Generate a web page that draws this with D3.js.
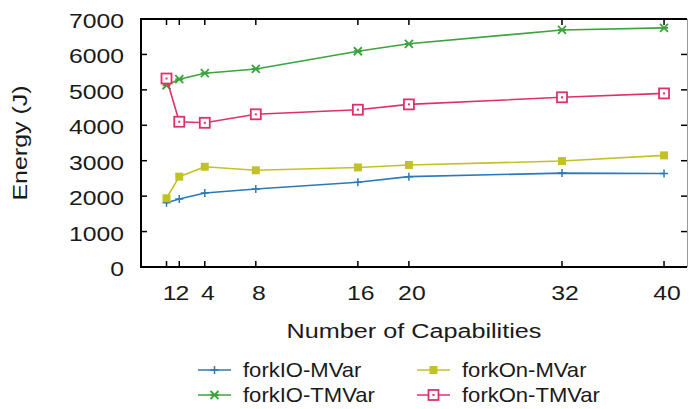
<!DOCTYPE html>
<html>
<head>
<meta charset="utf-8">
<script src="https://cdn.jsdelivr.net/npm/d3@7"></script>
<style>
  body { margin: 0; background: #fff; }
  svg { display: block; font-family: 'Liberation Sans', Arial, sans-serif; }
</style>
</head>
<body>
<script>
const capabilities = [1, 2, 4, 8, 16, 20, 32, 40]
const yTicks = [0, 1000, 2000, 3000, 4000, 5000, 6000, 7000]

const forkIOMVar = [1815, 1920, 2090, 2200, 2390, 2550, 2650, 2640]
const forkIOTMVar = [5130, 5300, 5470, 5590, 6090, 6300, 6690, 6750]
const forkOnMVar = [1940, 2550, 2830, 2730, 2810, 2880, 2990, 3150]
const forkOnTMVar = [5320, 4100, 4070, 4310, 4440, 4590, 4790, 4900]

const series = [
  { name: 'forkIO-MVar', values: forkIOMVar, color: '#2a7ab9', marker: 'plus' },
  { name: 'forkIO-TMVar', values: forkIOTMVar, color: '#3da33d', marker: 'star' },
  { name: 'forkOn-MVar', values: forkOnMVar, color: '#c2c225', marker: 'fsquare' },
  { name: 'forkOn-TMVar', values: forkOnTMVar, color: '#e0306c', marker: 'osquare' }
]

const width = 689
const height = 409
const plot = { left: 141, right: 687, top: 19, bottom: 267 }
const textColor = '#1a1a1a'

const svg = d3.select('body').append('svg')
  .attr('width', width)
  .attr('height', height)

const x = d3.scaleLinear().domain([-1, 41.8]).range([plot.left, plot.right])
const y = d3.scaleLinear().domain([0, 7000]).range([plot.bottom, plot.top])

// the original font is wider than Liberation Sans, so stretch it a bit
const label = (sel, tx, ty, stretch) => sel
  .attr('transform', `translate(${tx},${ty}) scale(${stretch},1)`)
  .attr('font-size', 21)
  .attr('fill', textColor)

// mirrored ticks, pointing inward
const ticks = svg.append('g').attr('stroke', '#000').attr('stroke-width', 1.5)
ticks.selectAll('.xb').data(capabilities).join('line')
  .attr('x1', d => x(d)).attr('x2', d => x(d))
  .attr('y1', plot.bottom).attr('y2', plot.bottom - 6)
ticks.selectAll('.xt').data(capabilities).join('line')
  .attr('x1', d => x(d)).attr('x2', d => x(d))
  .attr('y1', plot.top).attr('y2', plot.top + 6)
ticks.selectAll('.yl').data(yTicks).join('line')
  .attr('x1', plot.left).attr('x2', plot.left + 6)
  .attr('y1', d => y(d)).attr('y2', d => y(d))
ticks.selectAll('.yr').data(yTicks).join('line')
  .attr('x1', plot.right).attr('x2', plot.right - 6)
  .attr('y1', d => y(d)).attr('y2', d => y(d))

// frame
svg.append('path')
  .attr('d', `M${plot.right},${plot.top}H${plot.left}V${plot.bottom}H${plot.right}`)
  .attr('fill', 'none')
  .attr('stroke', '#000')
  .attr('stroke-width', 2)
svg.append('line')
  .attr('x1', plot.right + 0.5).attr('x2', plot.right + 0.5)
  .attr('y1', plot.top).attr('y2', plot.bottom)
  .attr('stroke', '#999')
  .attr('stroke-width', 1)

// tick labels
svg.append('g').selectAll('text').data(capabilities).join('text')
  .attr('text-anchor', 'middle')
  .call(sel => sel.each(function (d) {
    label(d3.select(this), x(d) + 3, 300, 1.18)
  }))
  .text(d => d)

svg.append('g').selectAll('text').data(yTicks).join('text')
  .attr('text-anchor', 'end')
  .call(sel => sel.each(function (d) {
    label(d3.select(this), 124, y(d) + 9, 1.18)
  }))
  .text(d => d)

svg.append('text')
  .attr('text-anchor', 'middle')
  .call(label, 27, 143, 1)
  .attr('transform', 'translate(27,143) rotate(-90) scale(1.19,1)')
  .text('Energy (J)')

svg.append('text')
  .attr('text-anchor', 'middle')
  .call(label, (plot.left + plot.right) / 2, 338, 1.2)
  .text('Number of Capabilities')

const drawMarker = (g, kind, color, px, py) => {
  if (kind === 'plus') {
    g.append('path').attr('d', `M${px - 4},${py}H${px + 4}M${px},${py - 4}V${py + 4}`)
      .attr('stroke', color).attr('stroke-width', 1.5)
  } else if (kind === 'star') {
    g.append('path').attr('d', `M${px - 4},${py - 4}L${px + 4},${py + 4}M${px - 4},${py + 4}L${px + 4},${py - 4}M${px - 4},${py}H${px + 4}`)
      .attr('stroke', color).attr('stroke-width', 1.8)
  } else if (kind === 'fsquare') {
    g.append('rect').attr('x', px - 4).attr('y', py - 4).attr('width', 8).attr('height', 8)
      .attr('fill', color)
  } else {
    g.append('rect').attr('x', px - 5).attr('y', py - 5).attr('width', 10).attr('height', 10)
      .attr('fill', '#fff').attr('stroke', color).attr('stroke-width', 1.8)
    g.append('rect').attr('x', px - 1).attr('y', py - 1).attr('width', 2).attr('height', 2)
      .attr('fill', color)
  }
}

const line = d3.line()
  .x(d => x(d[0]))
  .y(d => y(d[1]))

series.forEach(s => {
  const pts = capabilities.map((c, i) => [c, s.values[i]])
  const g = svg.append('g')
  g.append('path')
    .attr('d', line(pts))
    .attr('fill', 'none')
    .attr('stroke', s.color)
    .attr('stroke-width', 1.6)
  pts.forEach(p => drawMarker(g, s.marker, s.color, x(p[0]), y(p[1])))
})

// legend, two columns
const legendCols = [198, 417]
const legendRows = [370, 395]
series.forEach((s, i) => {
  const lx = legendCols[i < 2 ? 0 : 1]
  const ly = legendRows[i % 2]
  const g = svg.append('g')
  g.append('line')
    .attr('x1', lx).attr('x2', lx + 33)
    .attr('y1', ly).attr('y2', ly)
    .attr('stroke', s.color)
    .attr('stroke-width', 1.6)
  drawMarker(g, s.marker, s.color, lx + 16.5, ly)
  g.append('text')
    .call(label, lx + 45, ly + 7, 1.05)
    .text(s.name)
})
</script>
</body>
</html>
